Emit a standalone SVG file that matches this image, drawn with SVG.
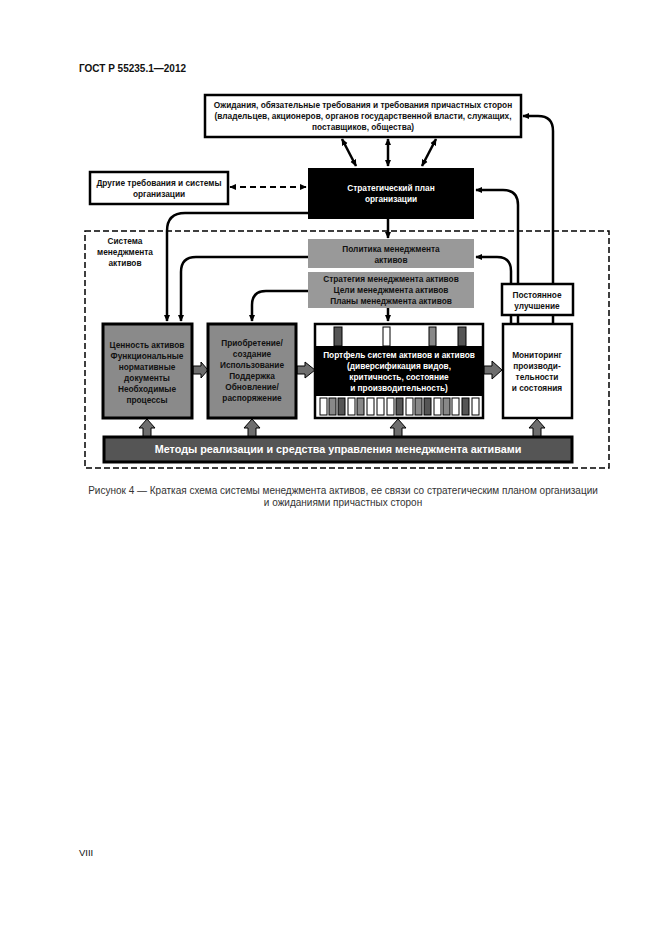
<svg xmlns="http://www.w3.org/2000/svg" width="661" height="935" viewBox="0 0 661 935">
<style>
text{font-family:"Liberation Sans",Arial,sans-serif;}
.b{font-weight:bold;font-size:8.3px;text-anchor:middle;fill:#111;}
.w{fill:#fff;}
.box{fill:#fff;stroke:#000;stroke-width:2.5;}
.gray{fill:#999;}
.gbox{fill:#8a8a8a;stroke:#000;stroke-width:3;}
.con{fill:none;stroke:#000;stroke-width:2.5;}
.blk{fill:#6e6e6e;stroke:#000;stroke-width:1;}
.barw{fill:#fff;stroke:#000;stroke-width:1;}
.bard{fill:#555;stroke:#000;stroke-width:1;}
.barg{fill:#888;stroke:#000;stroke-width:1;}
.cap{font-size:10px;text-anchor:middle;fill:#333;}
</style>
<defs>
<marker id="ah" viewBox="0 0 10 10" refX="9" refY="5" markerWidth="7" markerHeight="7" markerUnits="userSpaceOnUse" orient="auto-start-reverse"><path d="M0,0.5 L10,5 L0,9.5 z" fill="#000"/></marker>
</defs>
<rect width="661" height="935" fill="#fff"/>
<text x="79" y="72" style="font-weight:bold;font-size:10px;fill:#111">ГОСТ Р 55235.1—2012</text>

<g id="boundary">
<rect x="85" y="231" width="524" height="237" fill="none" stroke="#000" stroke-width="1.5" stroke-dasharray="6,3"/>
<text class="b" x="125" y="244">Система</text>
<text class="b" x="125" y="255">менеджмента</text>
<text class="b" x="125" y="266">активов</text>
</g>

<g id="connectors">
<line class="con" x1="342" y1="139" x2="356" y2="166" marker-start="url(#ah)" marker-end="url(#ah)"/>
<line class="con" x1="388" y1="139" x2="388" y2="166" marker-start="url(#ah)" marker-end="url(#ah)"/>
<line class="con" x1="436" y1="139" x2="422" y2="166" marker-start="url(#ah)" marker-end="url(#ah)"/>
<line x1="230" y1="187" x2="306" y2="187" stroke="#000" stroke-width="2" stroke-dasharray="6,4" marker-start="url(#ah)" marker-end="url(#ah)"/>
<path class="con" d="M553,284 V131 Q553,116 538,116 H523" marker-end="url(#ah)"/>
<path class="con" d="M518,284 V205 Q518,190 503,190 H476" marker-end="url(#ah)"/>
<path class="con" d="M511,284 V271 Q511,257 497,257 H476" marker-end="url(#ah)"/>
<line class="con" x1="511" y1="315" x2="511" y2="323"/>
<line class="con" x1="518" y1="315" x2="518" y2="323"/>
<line class="con" x1="553" y1="315" x2="553" y2="323"/>
<path class="con" d="M308,213 H185 Q167,213 167,231 V321" marker-end="url(#ah)"/>
<path class="con" d="M308,257 H196 Q181,257 181,272 V321" marker-end="url(#ah)"/>
<path class="con" d="M308,291 H266 Q252,291 252,305 V321" marker-end="url(#ah)"/>
<line class="con" x1="388" y1="219" x2="388" y2="238" marker-end="url(#ah)"/>
<line class="con" x1="388" y1="308" x2="388" y2="321" marker-end="url(#ah)"/>
<polygon class="blk" points="193,366 201,366 201,362 208,370 201,378 201,374 193,374"/>
<polygon class="blk" points="297,366 305,366 305,362 315,370 305,378 305,374 297,374"/>
<polygon class="blk" points="484,366 492,366 492,361 502,370 492,379 492,374 484,374"/>
<polygon class="blk" points="143,437 143,428 139,428 147,419 155,428 151,428 151,437"/>
<polygon class="blk" points="248,437 248,428 244,428 252,419 260,428 256,428 256,437"/>
<polygon class="blk" points="394,437 394,428 390,428 398,419 406,428 402,428 402,437"/>
<polygon class="blk" points="533,437 533,428 529,428 537,419 545,428 541,428 541,437"/>
</g>

<g id="expectations">
<rect class="box" x="205" y="95" width="316" height="42"/>
<text class="b" x="363" y="108">Ожидания, обязательные требования и требования причастных сторон</text>
<text class="b" x="363" y="119">(владельцев, акционеров, органов государственной власти, служащих,</text>
<text class="b" x="363" y="130">поставщиков, общества)</text>
</g>

<g id="other">
<rect class="box" x="90" y="172" width="138" height="32"/>
<text class="b" x="159" y="186">Другие требования и системы</text>
<text class="b" x="159" y="197">организации</text>
</g>

<g id="strategic">
<rect x="308" y="168" width="166" height="51" fill="#000"/>
<text class="b w" x="391" y="191">Стратегический план</text>
<text class="b w" x="391" y="202">организации</text>
</g>

<g id="policy">
<rect class="gray" x="308" y="239" width="166" height="29"/>
<text class="b" x="391" y="252">Политика менеджмента</text>
<text class="b" x="391" y="263">активов</text>
</g>

<g id="strategy">
<rect class="gray" x="308" y="272" width="166" height="36"/>
<text class="b" x="391" y="282">Стратегия менеджмента активов</text>
<text class="b" x="391" y="293">Цели менеджмента активов</text>
<text class="b" x="391" y="304">Планы менеджмента активов</text>
</g>

<g id="improvement">
<rect class="box" x="502" y="284" width="71" height="31"/>
<text class="b" x="537" y="298">Постоянное</text>
<text class="b" x="537" y="309">улучшение</text>
</g>

<g id="value">
<rect class="gbox" x="103" y="324" width="89" height="94"/>
<text class="b" x="147" y="348">Ценность активов</text>
<text class="b" x="147" y="359">Функциональные</text>
<text class="b" x="147" y="370">нормативные</text>
<text class="b" x="147" y="381">документы</text>
<text class="b" x="147" y="392">Необходимые</text>
<text class="b" x="147" y="403">процессы</text>
</g>

<g id="lifecycle">
<rect class="gbox" x="208" y="324" width="88" height="94"/>
<text class="b" x="252" y="346">Приобретение/</text>
<text class="b" x="252" y="357">создание</text>
<text class="b" x="252" y="368">Использование</text>
<text class="b" x="252" y="379">Поддержка</text>
<text class="b" x="252" y="390">Обновление/</text>
<text class="b" x="252" y="401">распоряжение</text>
</g>

<g id="portfolio">
<rect class="box" x="315" y="324" width="168" height="94"/>
<rect class="bard" x="334" y="327" width="8" height="19"/>
<rect class="barw" x="383" y="327" width="7" height="19"/>
<rect class="barg" x="429" y="327" width="7" height="19"/>
<rect class="bard" x="458" y="327" width="8" height="19"/>
<rect x="316" y="346" width="166" height="50" fill="#000"/>
<rect class="barw" x="320" y="398" width="7" height="17"/>
<rect class="barg" x="329" y="398" width="7" height="17"/>
<rect class="bard" x="338" y="398" width="7" height="17"/>
<rect class="barw" x="348" y="398" width="7" height="17"/>
<rect class="barg" x="357" y="398" width="7" height="17"/>
<rect class="barw" x="367" y="398" width="7" height="17"/>
<rect class="barw" x="377" y="398" width="7" height="17"/>
<rect class="barw" x="387" y="398" width="7" height="17"/>
<rect class="bard" x="396" y="398" width="7" height="17"/>
<rect class="barw" x="406" y="398" width="7" height="17"/>
<rect class="barg" x="415" y="398" width="7" height="17"/>
<rect class="bard" x="424" y="398" width="7" height="17"/>
<rect class="barw" x="434" y="398" width="7" height="17"/>
<rect class="barg" x="443" y="398" width="7" height="17"/>
<rect class="barw" x="452" y="398" width="7" height="17"/>
<rect class="bard" x="462" y="398" width="7" height="17"/>
<rect class="barw" x="472" y="398" width="7" height="17"/>
<text class="b w" x="399" y="358">Портфель систем активов и активов</text>
<text class="b w" x="399" y="369">(диверсификация видов,</text>
<text class="b w" x="399" y="380">критичность, состояние</text>
<text class="b w" x="399" y="391">и производительность)</text>
</g>

<g id="monitoring">
<rect class="box" x="503" y="324" width="69" height="94"/>
<text class="b" x="537" y="358">Мониторинг</text>
<text class="b" x="537" y="369">производи-</text>
<text class="b" x="537" y="380">тельности</text>
<text class="b" x="537" y="391">и состояния</text>
</g>

<g id="methods">
<rect x="104" y="437" width="468" height="25" fill="#555" stroke="#000" stroke-width="3"/>
<text x="338" y="453" style="font-weight:bold;font-size:10.8px;text-anchor:middle;fill:#fff">Методы реализации и средства управления менеджмента активами</text>
</g>

<text class="cap" x="343" y="494">Рисунок 4 — Краткая схема системы менеджмента активов, ее связи со стратегическим планом организации</text>
<text class="cap" x="343" y="506">и ожиданиями причастных сторон</text>
<text x="79" y="856" style="font-size:9.5px;fill:#111">VIII</text>
</svg>
